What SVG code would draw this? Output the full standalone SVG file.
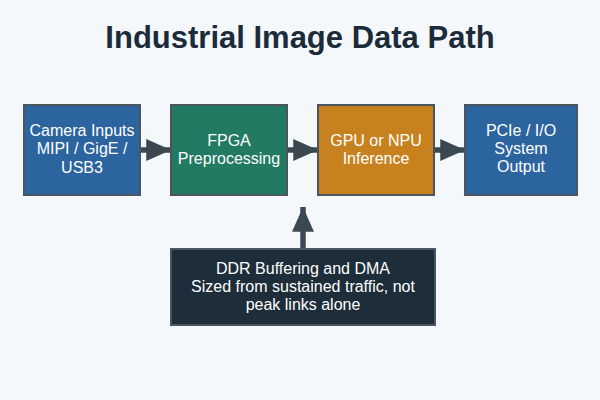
<svg xmlns="http://www.w3.org/2000/svg" width="600" height="400" viewBox="0 0 600 400">
<defs>
<marker id="ah" markerWidth="4.5" markerHeight="4" refX="4.5" refY="2" orient="auto" markerUnits="strokeWidth">
<path d="M0,0 L4.5,2 L0,4 Z" fill="#3b4852"/>
</marker>
<style>
.box{stroke:#4a5560;stroke-width:2}
.t{font-family:"Liberation Sans",Arial,sans-serif;font-size:16px;fill:#ffffff;text-anchor:middle}
.c{stroke:#3b4852;stroke-width:5.5;fill:none;marker-end:url(#ah)}
</style>
</defs>
<rect width="600" height="400" fill="#f5f8fa"/>
<text x="300" y="48" text-anchor="middle" font-family="Liberation Sans,Arial,sans-serif" font-size="31" font-weight="bold" fill="#1c2b3a">Industrial Image Data Path</text>
<g id="connectors">
<line class="c" x1="140" y1="150" x2="171" y2="150"/>
<line class="c" x1="287" y1="150" x2="318" y2="150"/>
<line class="c" x1="434" y1="150" x2="465" y2="150"/>
<line class="c" x1="303" y1="249" x2="303" y2="207"/>
</g>
<g id="camera">
<rect class="box" x="24" y="105" width="116" height="90" fill="#2c64a0"/>
<text class="t" x="82" y="136">Camera Inputs</text>
<text class="t" x="82" y="154">MIPI / GigE /</text>
<text class="t" x="82" y="173">USB3</text>
</g>
<g id="fpga">
<rect class="box" x="171" y="105" width="116" height="90" fill="#237a62"/>
<text class="t" x="229" y="146">FPGA</text>
<text class="t" x="229" y="164">Preprocessing</text>
</g>
<g id="gpu">
<rect class="box" x="318" y="105" width="116" height="90" fill="#c8811f"/>
<text class="t" x="376" y="146">GPU or NPU</text>
<text class="t" x="376" y="164">Inference</text>
</g>
<g id="pcie">
<rect class="box" x="465" y="105" width="112" height="90" fill="#2c64a0"/>
<text class="t" x="521" y="136">PCIe / I/O</text>
<text class="t" x="521" y="154">System</text>
<text class="t" x="521" y="172">Output</text>
</g>
<g id="ddr">
<rect class="box" x="171" y="249" width="264" height="76" fill="#1d2d3a"/>
<text class="t" x="303" y="274">DDR Buffering and DMA</text>
<text class="t" x="303" y="292">Sized from sustained traffic, not</text>
<text class="t" x="303" y="310">peak links alone</text>
</g>
</svg>
